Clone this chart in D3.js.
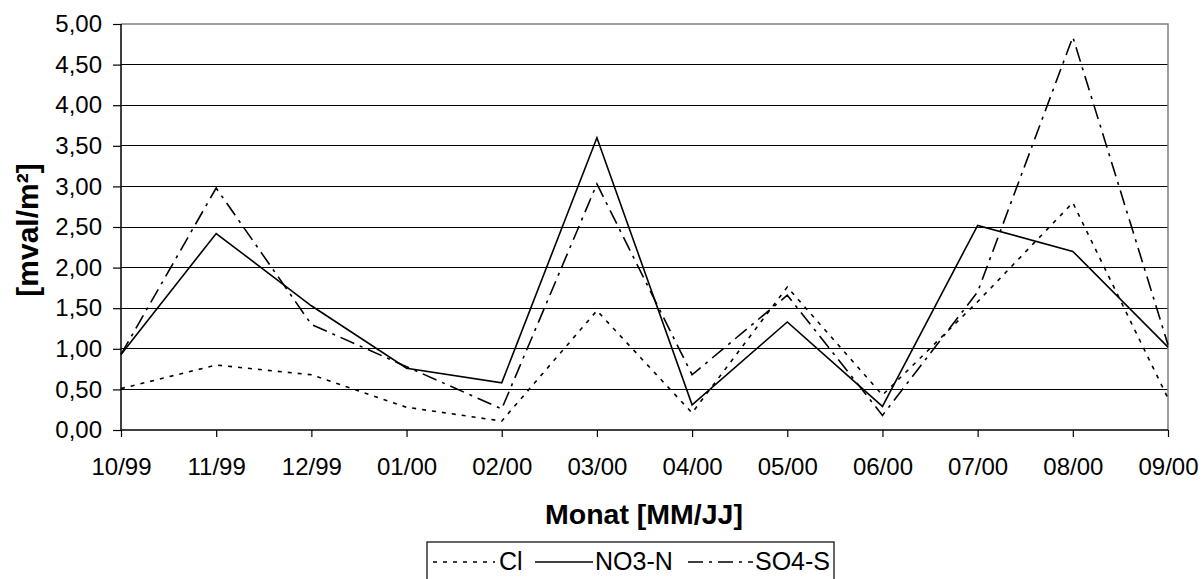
<!DOCTYPE html>
<html lang="de">
<head>
    <meta charset="UTF-8">
    <title>Deposition Cl / NO3-N / SO4-S</title>
    <script type="text/javascript" src="https://cdn.jsdelivr.net/npm/d3@7"></script>
    <style>
      body { margin: 0; background: #fff; }
      text { font-family: "Liberation Sans", Arial, sans-serif; fill: #000; }
    </style>
    <script type="text/javascript">
      // Daten
      var monate = ["10/99", "11/99", "12/99", "01/00", "02/00", "03/00",
                    "04/00", "05/00", "06/00", "07/00", "08/00", "09/00"];
      var cl  = [0.51, 0.80, 0.68, 0.28, 0.11, 1.47, 0.21, 1.76, 0.43, 1.58, 2.80, 0.39];
      var no3 = [0.93, 2.42, 1.53, 0.76, 0.58, 3.60, 0.31, 1.33, 0.29, 2.52, 2.20, 1.02];
      var so4 = [0.93, 2.98, 1.30, 0.78, 0.26, 3.03, 0.68, 1.66, 0.18, 1.70, 4.84, 1.05];
      var yTicks = [0, 0.5, 1, 1.5, 2, 2.5, 3, 3.5, 4, 4.5, 5];
      var serien = ["Cl", "NO3-N", "SO4-S"];

      function diagrama() {
        var ancho = 1203, alto = 579;
        var links = 121, rechts = 1168, oben = 24, unten = 430;

        var svg = d3.select("body").append("svg")
            .attr("width", ancho)
            .attr("height", alto);

        // Skalen
        var x = d3.scalePoint().domain(monate).range([links, rechts]);
        var y = d3.scaleLinear().domain([0, 5]).range([unten, oben]);

        // Gitterlinien
        svg.append("g").selectAll("line")
           .data(yTicks.filter(function (d) { return d > 0 && d < 5; }))
           .enter().append("line")
           .attr("x1", links).attr("x2", rechts)
           .attr("y1", function (d) { return y(d); })
           .attr("y2", function (d) { return y(d); })
           .attr("stroke", "#000").attr("stroke-width", 1)
           .attr("shape-rendering", "crispEdges");

        // Rahmen oben / rechts (grau)
        svg.append("path")
           .attr("d", "M" + links + "," + y(5) + "H" + rechts + "V" + y(0))
           .attr("fill", "none").attr("stroke", "#808080").attr("stroke-width", 1.5);

        // Achsen
        var achseY = svg.append("g")
            .attr("transform", "translate(" + links + ",0)")
            .call(d3.axisLeft(y).tickValues(yTicks).tickSize(8).tickPadding(11)
                  .tickFormat(function (d) { return d.toFixed(2).replace(".", ","); }));
        var achseX = svg.append("g")
            .attr("transform", "translate(0," + unten + ")")
            .call(d3.axisBottom(x).tickSize(7).tickPadding(21));

        [achseY, achseX].forEach(function (a) {
          a.select(".domain").attr("stroke", "#000").attr("stroke-width", 1.5);
          a.selectAll(".tick line").attr("stroke", "#000").attr("stroke-width", 1.2);
          a.selectAll("text").attr("font-size", "24px")
           .attr("font-family", "Liberation Sans, Arial, sans-serif").attr("fill", "#000");
        });
        achseY.select(".domain").attr("d", "M0," + unten + "V" + oben);
        achseX.select(".domain").attr("d", "M" + links + ",0H" + rechts);

        // Linien
        var stile = [
          { werte: cl,  dash: "4,6" },
          { werte: no3, dash: null },
          { werte: so4, dash: "15,6,3,6" }
        ];
        var linie = d3.line()
            .x(function (d, i) { return x(monate[i]); })
            .y(function (d) { return y(d); });

        stile.forEach(function (s) {
          svg.append("path")
             .datum(s.werte)
             .attr("d", linie)
             .attr("fill", "none")
             .attr("stroke", "#000")
             .attr("stroke-width", 1.6)
             .attr("stroke-dasharray", s.dash);
        });

        // Achsentitel
        svg.append("text")
           .attr("x", 644).attr("y", 524)
           .attr("text-anchor", "middle")
           .attr("font-size", "28.5px").attr("font-weight", "bold")
           .text("Monat [MM/JJ]");
        svg.append("text")
           .attr("transform", "translate(38,230) rotate(-90)")
           .attr("text-anchor", "middle")
           .attr("font-size", "30px").attr("font-weight", "bold")
           .text("[mval/m²]");

        // Legende
        var leg = svg.append("g");
        leg.append("rect")
           .attr("x", 427).attr("y", 542).attr("width", 407).attr("height", 50)
           .attr("fill", "#fff").attr("stroke", "#000").attr("stroke-width", 1.2);
        var legPos = [{ x1: 433, x2: 495, tx: 499 },
                      { x1: 535, x2: 593, tx: 595 },
                      { x1: 688, x2: 753, tx: 755 }];
        legPos.forEach(function (p, i) {
          leg.append("line")
             .attr("x1", p.x1).attr("x2", p.x2).attr("y1", 562).attr("y2", 562)
             .attr("stroke", "#000").attr("stroke-width", 1.6)
             .attr("stroke-dasharray", stile[i].dash);
          leg.append("text")
             .attr("x", p.tx).attr("y", 570)
             .attr("font-size", "25px")
             .text(serien[i]);
        });
      }
    </script>
</head>
<body onload="diagrama()">
</body>
</html>
